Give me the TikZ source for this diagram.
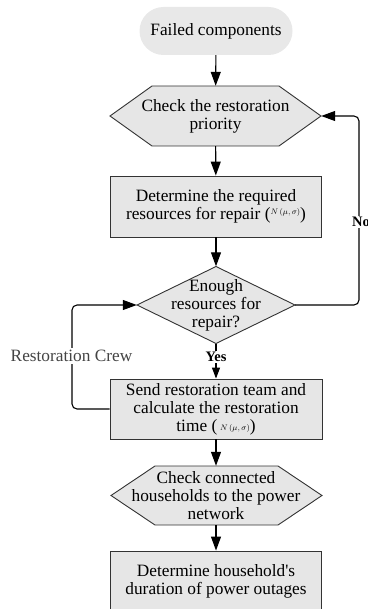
\documentclass[tikz,border=0pt]{standalone}
\usepackage{fontspec}
\setmainfont{Liberation Serif}
\usetikzlibrary{arrows.meta}
\definecolor{boxfill}{HTML}{E6E6E6}
\definecolor{pillfill}{HTML}{E8E8E8}
\definecolor{edge}{HTML}{333333}
\definecolor{labelgray}{HTML}{444444}
\newcommand{\nms}{{\fontsize{8.5}{8.5}\selectfont$N\,(\mu,\sigma)$}}
\begin{document}
\begin{tikzpicture}[x=1pt,y=-1pt,
  lbl/.style={align=center,font=\fontsize{17.3}{18}\selectfont,inner sep=0pt},
  boxnode/.style={lbl,draw=edge,fill=boxfill,line width=0.9pt},
  shapeoutline/.style={draw=edge,fill=boxfill,line width=0.9pt},
  conn/.style={line width=1.1pt,-{Triangle[width=10pt,length=14pt]}},
  smallconn/.style={line width=1.1pt,-{Triangle[width=8pt,length=11pt]}},
  flowlabel/.style={font=\fontsize{14.5}{15}\selectfont\bfseries,fill=white,inner sep=1pt},
]
\useasboundingbox (0,0) rectangle (367,609);

% start pill
\node[lbl,fill=pillfill,rounded corners=24pt,minimum width=153pt,minimum height=48pt] (fail) at (216,31) {Failed components};

% hexagon 1
\filldraw[shapeoutline] (110,116) -- (152,86) -- (279,86) -- (321,116) -- (279,146) -- (152,146) -- cycle;
\node[lbl,minimum width=211pt,minimum height=60pt] (prio) at (215.5,116) {Check the restoration\\priority};

% rect 2
\node[boxnode,minimum width=211pt,minimum height=61pt] (res) at (216,206.5) {Determine the required\\resources for repair (\raisebox{5pt}{\nms})};

% diamond
\filldraw[shapeoutline] (137,305) -- (216,266.5) -- (295,305) -- (216,343.5) -- cycle;
\node[lbl,minimum width=158pt,minimum height=77pt] (enough) at (216,305) {Enough\\resources for\\repair?};

% rect 3
\node[boxnode,minimum width=212pt,minimum height=60pt] (send) at (216,409) {Send restoration team and\\calculate the restoration\\time (\,\raisebox{1pt}{\nms})};

% hexagon 2
\filldraw[shapeoutline] (111,495.5) -- (155,466) -- (278,466) -- (322,495.5) -- (278,525) -- (155,525) -- cycle;
\node[lbl,minimum width=211pt,minimum height=59pt] (house) at (216,495.5) {Check connected\\households to the power\\network};

% rect 4
\node[boxnode,minimum width=211pt,minimum height=60pt] (dur) at (216,581) {Determine household\textquotesingle s\\duration of power outages};

% connectors
\draw[conn] (fail) -- (prio);
\draw[conn] (prio) -- (res);
\draw[conn] (res) -- (enough);
\draw[smallconn] (enough) -- node[flowlabel,pos=0.38] (yes) {Yes} (send);
\draw[conn] (send) -- (house);
\draw[conn] (house) -- (dur);

% No loop
\draw[conn,rounded corners=5pt] (enough.east) -- (359,305) -- (359,116) -- (prio.east);
\node[flowlabel] (nolbl) at (361,222) {No};

% Restoration crew loop
\draw[conn,rounded corners=5pt] (send.west) -- (72,409) -- (72,305) -- (enough.west);
\node[lbl,fill=white,inner sep=2pt,text=labelgray] (crew) at (71.5,356) {Restoration Crew};
\end{tikzpicture}
\end{document}
